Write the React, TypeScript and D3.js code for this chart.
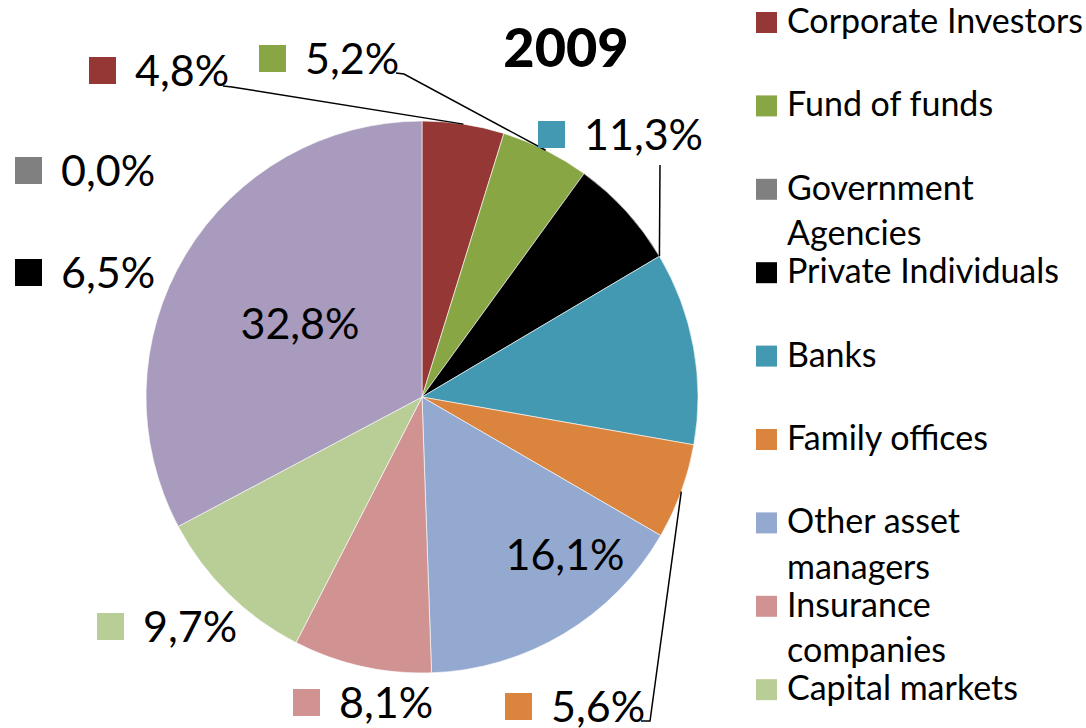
import React from "react";
import * as d3 from "d3";

const categories = [
  "Corporate Investors",
  "Fund of funds",
  "Government Agencies",
  "Private Individuals",
  "Banks",
  "Family offices",
  "Other asset managers",
  "Insurance companies",
  "Capital markets",
  "Other",
];
const shares = [4.8, 5.2, 0.0, 6.5, 11.3, 5.6, 16.1, 8.1, 9.7, 32.8];
const colors = [
  "#953735",
  "#88A644",
  "#808080",
  "#000000",
  "#4399B1",
  "#DB843D",
  "#94A9CF",
  "#D19392",
  "#B9CD96",
  "#A99BBD",
];
const legendLines = [
  ["Corporate Investors"],
  ["Fund of funds"],
  ["Government", "Agencies"],
  ["Private Individuals"],
  ["Banks"],
  ["Family offices"],
  ["Other asset", "managers"],
  ["Insurance", "companies"],
  ["Capital markets"],
];
const title = "2009";

// label layout (square top-left for outside labels; text center/baseline for inside labels)
type LabelLayout = {
  kind: "out" | "in";
  x: number;
  y: number;
  leader?: "mid" | "start";
  from?: [number, number][];
};
const labelLayout: LabelLayout[] = [
  { kind: "out", x: 89, y: 57, leader: "mid", from: [[223, 86], [232, 87]] },
  { kind: "out", x: 259, y: 45, leader: "mid", from: [[396, 73], [404, 74]] },
  { kind: "out", x: 15, y: 157 },
  { kind: "out", x: 15, y: 259 },
  { kind: "out", x: 538, y: 121, leader: "start", from: [[660, 165]] },
  { kind: "out", x: 505, y: 693, leader: "mid", from: [[641, 721], [650, 721]] },
  { kind: "in", x: 565, y: 570 },
  { kind: "out", x: 293, y: 689 },
  { kind: "out", x: 97, y: 613 },
  { kind: "in", x: 300, y: 339 },
];

const W = 1086;
const H = 728;
const cx = 422;
const cy = 397;
const R = 276;
const FONT = "Lato, 'Open Sans', sans-serif";

export default function App() {
  const fmt = (v: number) => v.toFixed(1).replace(".", ",") + "%";
  const pie = d3
    .pie<number>()
    .sort(null)
    .value((d) => d)
    .startAngle(0)
    .endAngle(2 * Math.PI);
  const arcs = pie(shares);
  const arcGen = d3.arc<d3.PieArcDatum<number>>().innerRadius(0).outerRadius(R);
  const pt = (a: number): [number, number] => [cx + R * Math.sin(a), cy - R * Math.cos(a)];
  const line = d3.line();

  return (
    <div style={{ position: "absolute", left: 0, top: 0 }}>
      <svg width={W} height={H} style={{ display: "block", background: "#fff" }}>
        <g transform={`translate(${cx},${cy})`}>
          {arcs.map((a, i) =>
            a.endAngle - a.startAngle > 0 ? (
              <path key={i} d={arcGen(a) || ""} fill={colors[i]} stroke="#fff" strokeWidth={0.6} />
            ) : null
          )}
        </g>
        {/* leader lines */}
        {arcs.map((a, i) => {
          const L = labelLayout[i];
          if (!L.leader || !L.from) return null;
          const ang = L.leader === "mid" ? (a.startAngle + a.endAngle) / 2 : a.startAngle;
          const pts = [...L.from, pt(ang)];
          return <path key={i} d={line(pts) || ""} fill="none" stroke="#000" strokeWidth={1.5} />;
        })}
        {/* data labels */}
        {arcs.map((a, i) => {
          const L = labelLayout[i];
          if (L.kind === "in") {
            return (
              <text key={i} x={L.x} y={L.y} textAnchor="middle" fontFamily={FONT} fontSize={43} fill="#000">
                {fmt(shares[i])}
              </text>
            );
          }
          return (
            <g key={i}>
              <rect x={L.x} y={L.y} width={27} height={27} fill={colors[i]} />
              <text x={L.x + 46} y={L.y + 29} fontFamily={FONT} fontSize={43} fill="#000">
                {fmt(shares[i])}
              </text>
            </g>
          );
        })}
        {/* title */}
        <text x={566} y={67} textAnchor="middle" fontFamily={FONT} fontWeight={900} fontSize={54} fill="#000">
          {title}
        </text>
        {/* legend */}
        {legendLines.map((lines, i) => {
          const base = 33 + i * 83.4;
          return (
            <g key={i}>
              <rect x={756} y={base - 21} width={21} height={21} fill={colors[i]} />
              {lines.map((t, j) => (
                <text key={j} x={787} y={base + j * 45.5} fontFamily={FONT} fontSize={34} fill="#000">
                  {t}
                </text>
              ))}
            </g>
          );
        })}
      </svg>
    </div>
  );
}
